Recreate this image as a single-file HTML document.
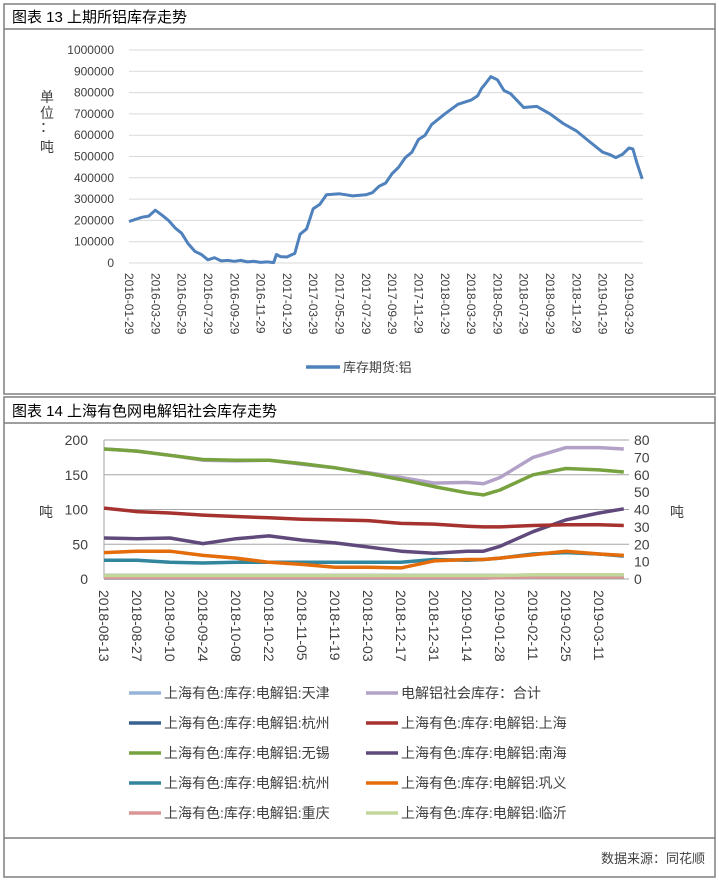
<!DOCTYPE html>
<html><head><meta charset="utf-8"><style>
body{margin:0;background:#fff;}
svg text{font-family:"Liberation Sans","Noto Sans CJK SC",sans-serif;fill:#404040;}
</style></head><body>
<svg width="719" height="882" viewBox="0 0 719 882" xmlns="http://www.w3.org/2000/svg">
<g fill="none" stroke="#7f7f7f" stroke-width="1.5">
<rect x="4" y="4" width="711" height="390"/>
<line x1="4" y1="29" x2="715" y2="29"/>
<rect x="4" y="397" width="711" height="480"/>
<line x1="4" y1="423" x2="715" y2="423"/>
<line x1="4" y1="838" x2="715" y2="838"/>
</g>
<text x="12" y="22" font-size="15" style="fill:#000">图表 13 上期所铝库存走势</text>
<text x="12" y="416" font-size="15" style="fill:#000">图表 14 上海有色网电解铝社会库存走势</text>
<text x="705" y="863" font-size="13" text-anchor="end">数据来源：同花顺</text>
<g id="c1"></g>
<g id="c2"></g>
</svg>
<script>
// Chart 13 data (month offset from 2016-01-29, value tonnes)
const c1Months=[0,0.5,1,1.5,2,2.5,3,3.5,4,4.5,5,5.5,6,6.5,7,7.5,8,8.5,9,9.5,10,10.5,11,11.2,11.5,12,12.4,12.6,13,13.5,14,14.5,15,16,16.5,17,18,18.5,19,19.5,20,20.5,21,21.5,22,22.5,23,24,25,26,26.5,26.8,27,27.5,28,28.5,29,30,31,32,33,34,35,36,36.5,37,37.5,38,38.3,38.6,39];
const c1Values=[195000,205000,215000,220000,248000,225000,200000,165000,140000,90000,55000,40000,15000,25000,10000,12000,8000,12000,5000,8000,3000,5000,2000,40000,30000,28000,40000,45000,135000,160000,255000,275000,320000,325000,320000,315000,320000,330000,360000,375000,420000,450000,495000,520000,580000,600000,650000,700000,745000,765000,785000,820000,835000,875000,860000,810000,795000,730000,735000,700000,655000,620000,570000,520000,510000,495000,510000,540000,535000,470000,395000];
const c1Ticks=[0,100000,200000,300000,400000,500000,600000,700000,800000,900000,1000000];
const c1XLabels=["2016-01-29","2016-03-29","2016-05-29","2016-07-29","2016-09-29","2016-11-29","2017-01-29","2017-03-29","2017-05-29","2017-07-29","2017-09-29","2017-11-29","2018-01-29","2018-03-29","2018-05-29","2018-07-29","2018-09-29","2018-11-29","2019-01-29","2019-03-29"];

// Chart 14 data (week offset from 2018-08-13)
const c2Weeks=[0,2,4,6,8,10,12,14,16,18,20,22,23,24,26,28,30,31.5];
const c2XLabels=["2018-08-13","2018-08-27","2018-09-10","2018-09-24","2018-10-08","2018-10-22","2018-11-05","2018-11-19","2018-12-03","2018-12-17","2018-12-31","2019-01-14","2019-01-28","2019-02-11","2019-02-25","2019-03-11"];
const c2LeftTicks=[0,50,100,150,200];
const c2RightTicks=[0,10,20,30,40,50,60,70,80];
const sTianjin=[1,1,1,1,1,1,1,1,1,1,1,1,1,2,3,4,4,4];
const sHangzhou1=[5,5,5,5,5,5,5,5,5,5,5,5,5,5,5,5,5,5];
const sWuxi=[187,184,178,172,171,171,166,160,152,143,133,124,121,128,150,159,157,154];
const sTotal=[187,184,178,171,170,171,165,160,153,146,138,139,137,146,175,189,189,187];
const sShanghai=[102,97,95,92,90,88,86,85,84,80,79,76,75,75,77,78,78,77];
const sNanhai=[59,58,59,51,58,62,56,52,46,40,37,40,40,47,68,85,95,101];
const sHangzhou=[27,27,24,23,24,24,24,24,24,24,28,27,28,30,36,38,36,33];
const sGongyi=[38,40,40,34,30,24,21,17,17,16,26,28,28,30,35,40,36,34];
const sChongqing=[2,2,2,2,2,2,2,2,2,2,2,2,2,2,3,3,3,3];
const sLinyi=[5,5,5,5,5,5,5,5,5,5,5,5,5,5,6,6,6,6];

const NS="http://www.w3.org/2000/svg";
function mk(tag,attrs,parent){const e=document.createElementNS(NS,tag);for(const k in attrs)e.setAttribute(k,attrs[k]);parent.appendChild(e);return e;}

// ---- Chart 13
const g1=document.getElementById('c1');
const x1=m=>129+m*(629-129)/38;
const y1=v=>263-v*(263-50)/1000000;
c1Ticks.forEach(t=>{
  const l=mk('line',{x1:129,x2:643,y1:y1(t),y2:y1(t),stroke:'#d9d9d9','stroke-width':1},g1);
  
  
  const tx=mk('text',{x:114,y:y1(t)+4,'font-size':12,'text-anchor':'end'},g1);
  tx.textContent=t;
  
  
});
c1XLabels.forEach((s,i)=>{
  const x=x1(i*2);
  const tx=mk('text',{x:0,y:0,'font-size':12,transform:`translate(${x-4},273) rotate(90)`},g1);
  tx.textContent=s;
  
  
});
["单","位","：","吨"].forEach((c,i)=>{
  const tx=mk('text',{x:47,y:[102,118,132,152][i],'font-size':14,'text-anchor':'middle'},g1);
  tx.textContent=c;
  
  
});
const p1=mk('path',{d:c1Months.map((m,i)=>(i?'L':'M')+x1(m).toFixed(1)+','+y1(c1Values[i]).toFixed(1)).join(''),fill:'none',stroke:'#4f81bd','stroke-width':3,'stroke-linejoin':'round'},g1);


const ll=mk('line',{x1:306,x2:340,y1:367,y2:367,stroke:'#4f81bd','stroke-width':3.5},g1);


const lt=mk('text',{x:343,y:372,'font-size':13},g1);
lt.textContent='库存期货:铝';



// ---- Chart 14
const g2=document.getElementById('c2');
const x2=w=>104+w*(599-104)/30;
const y2=v=>579-v*(579-440)/200;
c2LeftTicks.forEach(t=>{
  const l=mk('line',{x1:104,x2:629,y1:y2(t),y2:y2(t),stroke:'#a6a6a6','stroke-width':1},g2);
  
  
  const tx=mk('text',{x:88,y:y2(t)+5,'font-size':14,'text-anchor':'end'},g2);
  tx.textContent=t;
  
  
});
c2RightTicks.forEach(t=>{
  const tx=mk('text',{x:634,y:579-t*(139/80)+5,'font-size':14},g2);
  tx.textContent=t;
  
  
});
const ax=mk('line',{x1:104,x2:104,y1:440,y2:579,stroke:'#a6a6a6'},g2);


c2XLabels.forEach((s,i)=>{
  const x=x2(i*2);
  const tx=mk('text',{x:0,y:0,'font-size':14,transform:`translate(${x-5},590) rotate(90)`},g2);
  tx.textContent=s;
  
  
});
const yl=mk('text',{x:46,y:517,'font-size':14,'text-anchor':'middle'},g2);
yl.textContent='吨';


const yr=mk('text',{x:677,y:517,'font-size':14,'text-anchor':'middle'},g2);
yr.textContent='吨';


const series=[
 {d:sHangzhou1,c:'#376092',k:'series-hangzhou-a'},
 {d:sTianjin,c:'#95b3d7',k:'series-tianjin'},
 {d:sChongqing,c:'#d99694',k:'series-chongqing'},
 {d:sLinyi,c:'#c3d69b',k:'series-linyi'},
 {d:sHangzhou,c:'#31859c',k:'series-hangzhou'},
 {d:sGongyi,c:'#e46c0a',k:'series-gongyi'},
 {d:sNanhai,c:'#604a7b',k:'series-nanhai'},
 {d:sShanghai,c:'#a5322e',k:'series-shanghai'},
 {d:sTotal,c:'#b3a2c7',k:'series-total'},
 {d:sWuxi,c:'#77a23f',k:'series-wuxi'}
];
series.forEach(s=>{
  const p=mk('path',{d:c2Weeks.map((w,i)=>(i?'L':'M')+x2(w).toFixed(1)+','+y2(s.d[i]).toFixed(1)).join(''),fill:'none',stroke:s.c,'stroke-width':3.5,'stroke-linejoin':'round'},g2);
  
  
});
const legend=[
 ['#95b3d7','上海有色:库存:电解铝:天津'],['#b3a2c7','电解铝社会库存：合计'],
 ['#376092','上海有色:库存:电解铝:杭州'],['#a5322e','上海有色:库存:电解铝:上海'],
 ['#77a23f','上海有色:库存:电解铝:无锡'],['#604a7b','上海有色:库存:电解铝:南海'],
 ['#31859c','上海有色:库存:电解铝:杭州'],['#e46c0a','上海有色:库存:电解铝:巩义'],
 ['#d99694','上海有色:库存:电解铝:重庆'],['#c3d69b','上海有色:库存:电解铝:临沂']
];
legend.forEach((e,i)=>{
  const row=Math.floor(i/2),col=i%2;
  const y=693+row*30, lx=col?366:129;
  const l=mk('line',{x1:lx,x2:lx+32,y1:y,y2:y,stroke:e[0],'stroke-width':3.5},g2);
  
  
  const t=mk('text',{x:lx+35,y:y+5,'font-size':14},g2);
  t.textContent=e[1];
  
  
});
</script>
</body></html>
